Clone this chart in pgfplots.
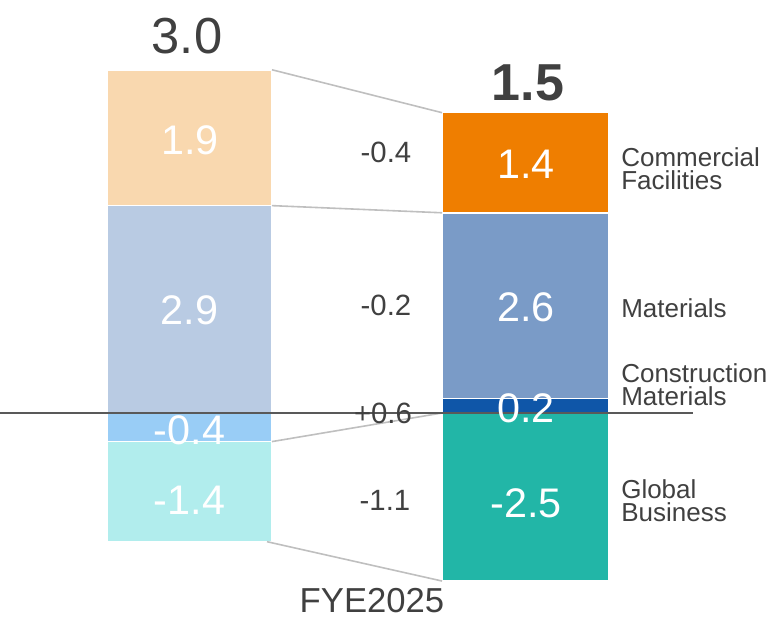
\documentclass[border=0pt]{standalone}
\usepackage{pgfplots}
\pgfplotsset{compat=1.18}
\usepackage{fontspec}
\setmainfont{Liberation Sans}

\definecolor{peach}{HTML}{F9D8AF}
\definecolor{paleblue}{HTML}{B9CBE3}
\definecolor{skyblue}{HTML}{99CDF6}
\definecolor{palecyan}{HTML}{B1EDED}
\definecolor{orng}{HTML}{EF7E00}
\definecolor{matblue}{HTML}{7A9BC7}
\definecolor{darkblue}{HTML}{0F56A8}
\definecolor{teal2}{HTML}{22B6A7}
\definecolor{txt}{HTML}{404040}
\definecolor{link}{HTML}{BFBFBF}

\begin{document}
\begin{tikzpicture}[
    seg/.style={draw=white, line width=1.2pt},
    val/.style={text=white, font=\fontsize{31}{34}\selectfont},
    chg/.style={text=txt, font=\fontsize{22}{24}\selectfont},
    lab/.style={text=txt, anchor=west, align=left, inner sep=0pt, font=\fontsize{19.5}{17}\selectfont},
]
% x in pixels of the 774 px wide picture, y in the chart's units
\begin{axis}[
    width=580.5pt, height=464.25pt,
    scale only axis,
    xmin=0, xmax=774,
    ymin=-2.881, ymax=5.776,
    axis line style={draw=none},
    xtick=\empty, ytick=\empty,
    clip=false,
]
% FYE2024 bar (left)
\addplot[seg, fill=peach]    coordinates {(107,2.9) (272,2.9) (272,4.8) (107,4.8)} -- cycle;
\addplot[seg, fill=paleblue] coordinates {(107,0) (272,0) (272,2.9) (107,2.9)} -- cycle;
\addplot[seg, fill=skyblue]  coordinates {(107,0) (272,0) (272,-0.4) (107,-0.4)} -- cycle;
\addplot[seg, fill=palecyan] coordinates {(107,-0.4) (272,-0.4) (272,-1.8) (107,-1.8)} -- cycle;
% FYE2025 bar (right)
\addplot[seg, fill=orng]     coordinates {(442,2.8) (609,2.8) (609,4.2) (442,4.2)} -- cycle;
\addplot[seg, fill=matblue]  coordinates {(442,0.2) (609,0.2) (609,2.8) (442,2.8)} -- cycle;
\addplot[seg, fill=darkblue] coordinates {(442,0) (609,0) (609,0.2) (442,0.2)} -- cycle;
\addplot[seg, fill=teal2]    coordinates {(442,0) (609,0) (609,-2.35) (442,-2.35)} -- cycle;
% connecting lines
\addplot[link, line width=1.2pt] coordinates {(272,4.8) (442,4.2)};
\addplot[link, line width=1.2pt] coordinates {(272,2.9) (442,2.8)};
\addplot[link, line width=1.2pt] coordinates {(272,-0.4) (442,0)};
\addplot[link, line width=1.2pt] coordinates {(267,-1.8) (442,-2.35)};
% zero line
\addplot[black!65, line width=0.8pt] coordinates {(0,0) (693,0)};

% totals
\node[text=txt, font=\fontsize{38}{42}\selectfont] at (axis cs:187,5.27) {3.0};
\node[text=txt, font=\bfseries\fontsize{39}{42}\selectfont] at (axis cs:528,4.62) {1.5};
% segment values
\node[val] at (axis cs:190,3.82) {1.9};
\node[val] at (axis cs:189.5,1.44) {2.9};
\node[val] at (axis cs:189.5,-0.24) {-0.4};
\node[val] at (axis cs:189.5,-1.22) {-1.4};
\node[val] at (axis cs:526,3.48) {1.4};
\node[val] at (axis cs:526,1.48) {2.6};
\node[val] at (axis cs:526,0.07) {0.2};
\node[val] at (axis cs:526,-1.26) {-2.5};
% changes
\node[chg] at (axis cs:386,3.64) {-0.4};
\node[chg] at (axis cs:386,1.51) {-0.2};
\node[chg] at (axis cs:383,0.0) {+0.6};
\node[chg] at (axis cs:385,-1.22) {-1.1};
% segment names
\node[lab] at (axis cs:621,3.42) {Commercial\\Facilities};
\node[lab] at (axis cs:621,1.47) {Materials};
\node[lab] at (axis cs:621,0.40) {Construction\\Materials};
\node[lab] at (axis cs:621,-1.23) {Global\\Business};
\node[text=txt, inner sep=0pt, font=\fontsize{26}{30}\selectfont] at (axis cs:372,-2.62) {FYE2025};
\end{axis}
\pgfresetboundingbox
\path (current axis.south west) rectangle (current axis.north east);
\end{tikzpicture}
\end{document}
